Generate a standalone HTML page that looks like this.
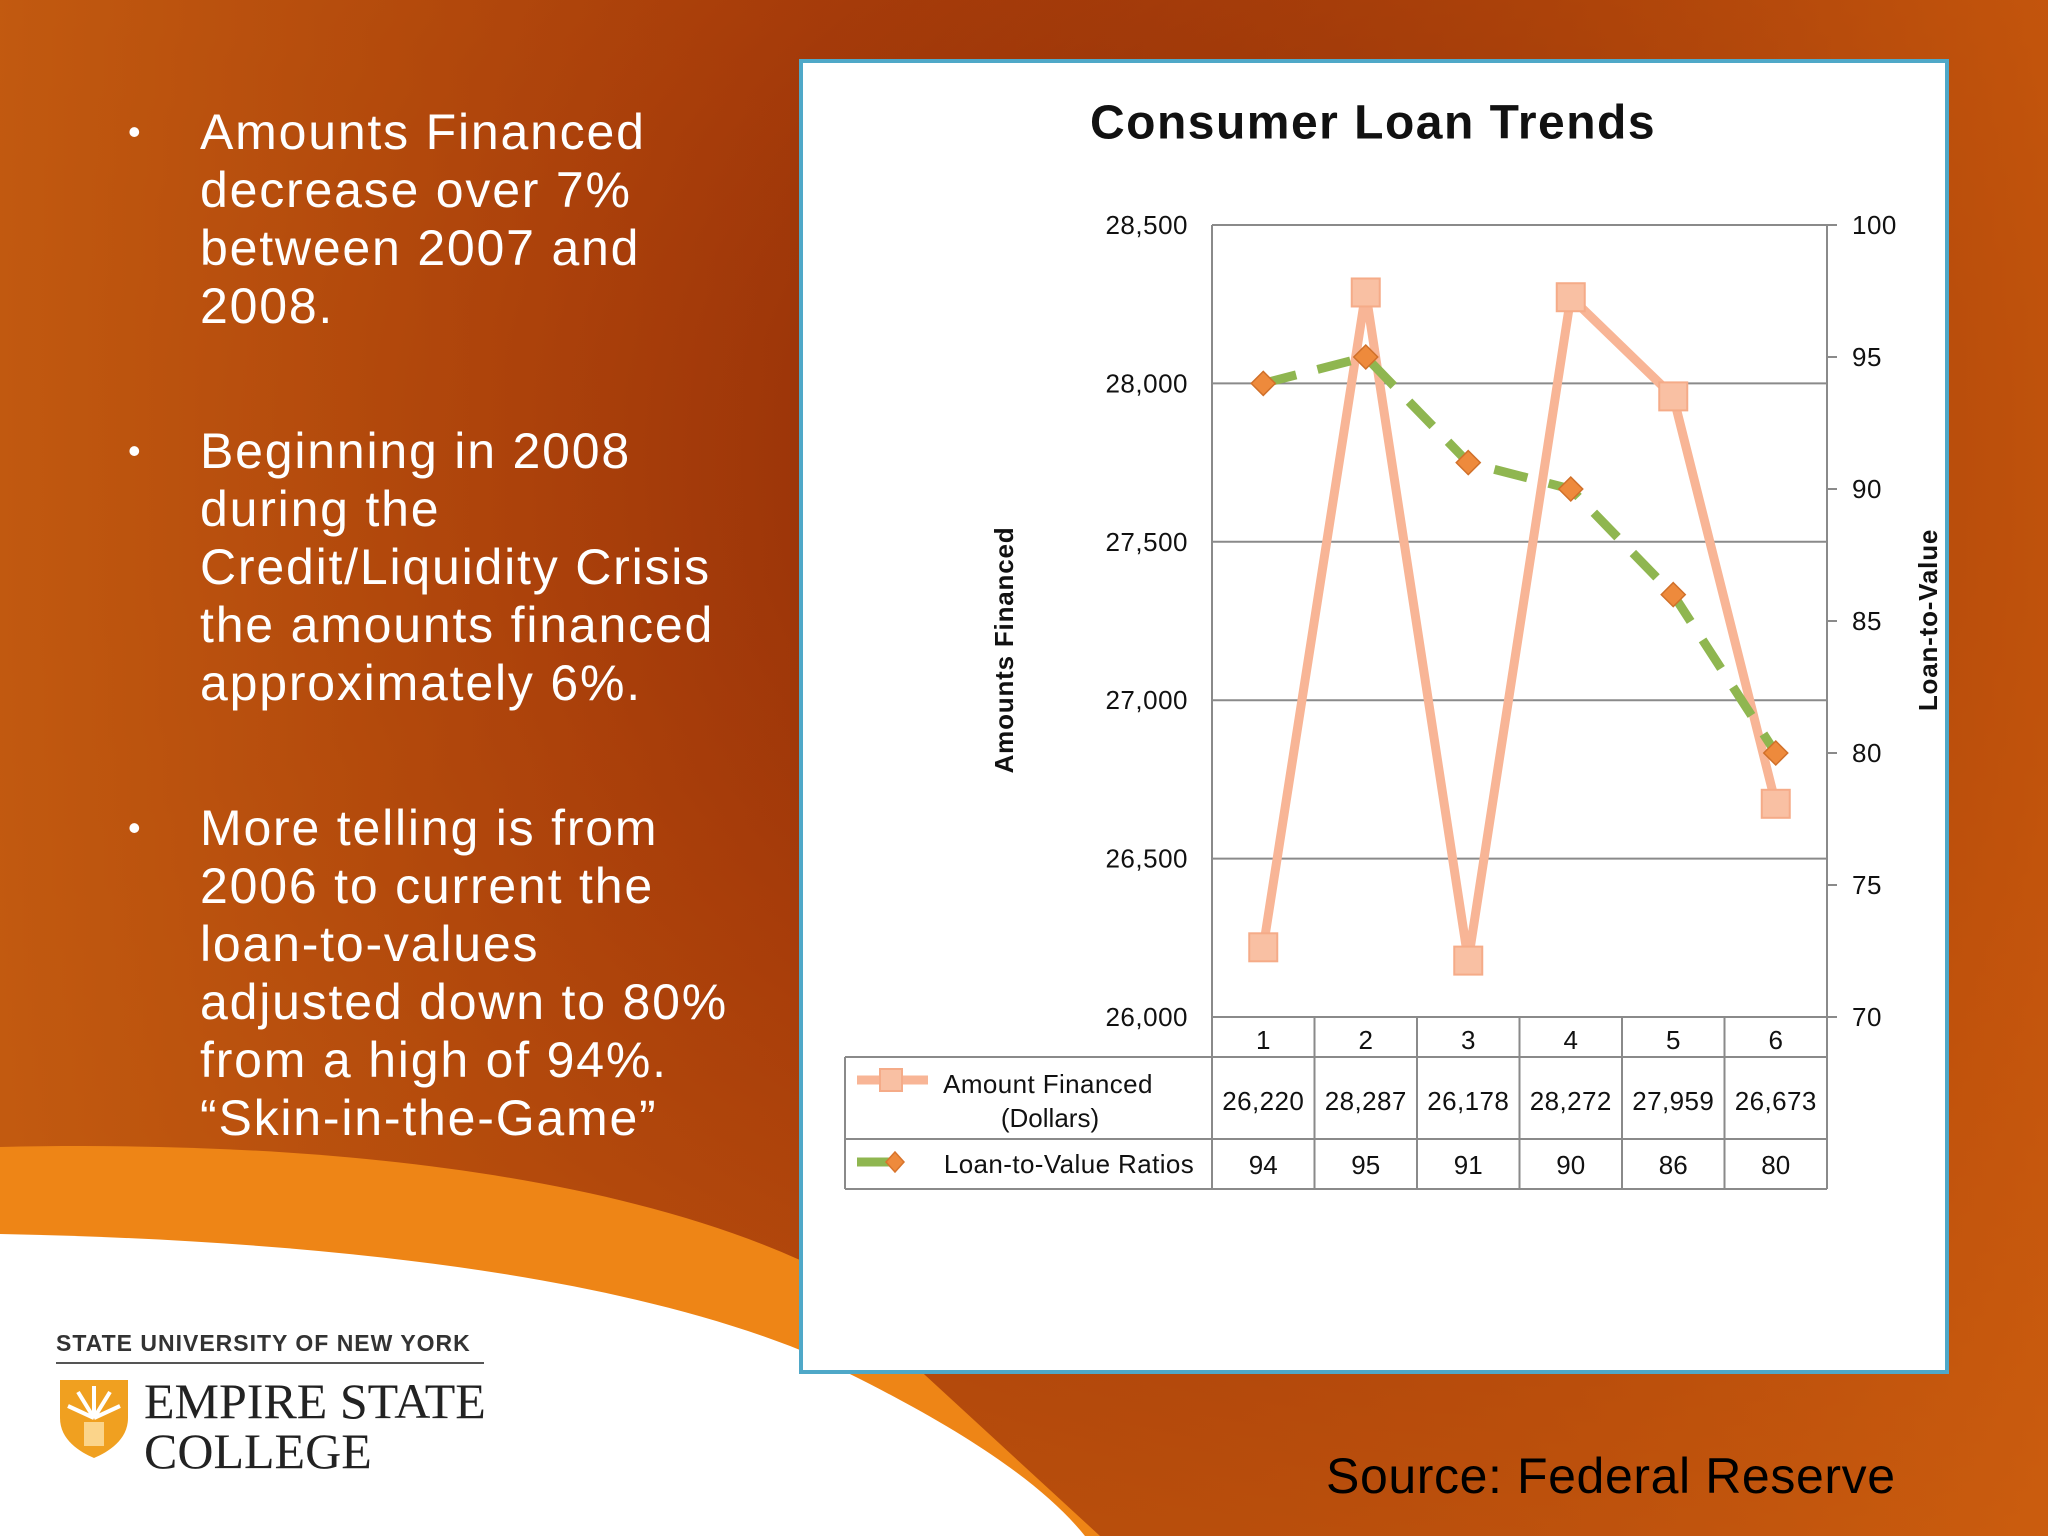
<!DOCTYPE html>
<html><head><meta charset="utf-8"><style>
html,body{margin:0;padding:0}
body{width:2048px;height:1536px;overflow:hidden;position:relative;font-family:"Liberation Sans",sans-serif;background:#b54a0c}
.bul{position:absolute;color:#fff;font-size:50px;line-height:58px;letter-spacing:1.8px;white-space:nowrap}
.bul .dot{position:absolute;left:-72px;top:0;font-size:36px}
</style></head><body>
<svg width="2048" height="1536" style="position:absolute;left:0;top:0">
<defs>
<radialGradient id="bg" cx="0.7" cy="0.3" r="0.9"><stop offset="0" stop-color="#7a1e05"/><stop offset="0.5" stop-color="#a83c0a"/><stop offset="1" stop-color="#c9600f"/></radialGradient>
<linearGradient id="bg2" x1="0" y1="0" x2="1" y2="0"><stop offset="0" stop-color="#c25a10" stop-opacity="0.9"/><stop offset="0.4" stop-color="#a8400a" stop-opacity="0.2"/><stop offset="1" stop-color="#d0600e" stop-opacity="0.7"/></linearGradient>
</defs>
<rect width="2048" height="1536" fill="url(#bg)"/>
<rect width="2048" height="1536" fill="url(#bg2)"/>
<path d="M0 1147 C300 1140 600 1170 800 1260 L1100 1536 L0 1536 Z" fill="#ee8516"/>
<path d="M0 1234 C300 1240 600 1270 800 1350 C950 1420 1040 1480 1085 1536 L0 1536 Z" fill="#fff"/>
</svg>

<div class="bul" style="left:200px;top:103px"><span class="dot">•</span>Amounts Financed<br>decrease over 7%<br>between 2007 and<br>2008.</div>
<div class="bul" style="left:200px;top:422px"><span class="dot">•</span>Beginning in 2008<br>during the<br>Credit/Liquidity Crisis<br>the amounts financed<br>approximately 6%.</div>
<div class="bul" style="left:200px;top:799px"><span class="dot">•</span>More telling is from<br>2006 to current the<br>loan-to-values<br>adjusted down to 80%<br>from a high of 94%.<br>“Skin-in-the-Game”</div>

<div style="position:absolute;left:56px;top:1330px;width:430px">
<div style="font-size:23px;font-weight:bold;color:#333;letter-spacing:1px;border-bottom:2px solid #555;padding-bottom:5px;white-space:nowrap;width:428px">STATE UNIVERSITY OF NEW YORK</div>
<svg width="72" height="82" style="position:absolute;left:2px;top:48px"><path d="M2 2 H70 V40 C70 62 50 74 36 80 C22 74 2 62 2 40 Z" fill="#f0a020"/><path d="M36 40 L20 14 M36 40 L36 8 M36 40 L52 14 M36 40 L10 28 M36 40 L62 28" stroke="#fff" stroke-width="4"/><rect x="26" y="44" width="20" height="24" fill="#fbd48a"/></svg>
<div style="position:absolute;left:88px;top:46px;font-family:'Liberation Serif',serif;font-size:50px;color:#222;line-height:50px;white-space:nowrap">EMPIRE STATE<br>COLLEGE</div>
</div>

<div style="position:absolute;left:1326px;top:1447px;font-size:50px;color:#000;white-space:nowrap;letter-spacing:0.6px">Source: Federal Reserve</div>

<div style="position:absolute;left:799px;top:59px;width:1142px;height:1307px;background:#fff;border:4px solid #4fa8c8"></div>

<svg id="chart" width="2048" height="1536" style="position:absolute;left:0;top:0" font-family="Liberation Sans, sans-serif"></svg>

<script>
const categories = ["1","2","3","4","5","6"];
const amountFinanced = [26220, 28287, 26178, 28272, 27959, 26673];
const loanToValue = [94, 95, 91, 90, 86, 80];
const amountLabels = ["26,220","28,287","26,178","28,272","27,959","26,673"];
const leftTicks = [26000, 26500, 27000, 27500, 28000, 28500];
const leftTickLabels = ["26,000","26,500","27,000","27,500","28,000","28,500"];
const rightTicks = [70, 75, 80, 85, 90, 95, 100];

const svg = document.getElementById('chart');
const NS = 'http://www.w3.org/2000/svg';
const PL = 1212, PR = 1827, PT = 225, PB = 1017;
const colW = (PR - PL) / categories.length;
function xPos(i){ return PL + (i + 0.5) * colW; }
function yLeft(v){ return PB - (v - 26000) / (28500 - 26000) * (PB - PT); }
function yRight(v){ return PB - (v - 70) / (100 - 70) * (PB - PT); }
function mk(tag, attrs, parent){ const e = document.createElementNS(NS, tag); for (const k in attrs) e.setAttribute(k, attrs[k]); (parent||svg).appendChild(e); return e; }
function txt(s, x, y, size, anchor, extra){ const t = mk('text', Object.assign({x:x, y:y, 'font-size':size, 'text-anchor':anchor||'middle', 'dominant-baseline':'central', fill:'#111'}, extra||{})); t.textContent = s; return t; }

let t = txt('Consumer Loan Trends', 1373, 123, 48, 'middle', {'font-weight':'bold', 'letter-spacing':'1.5'});



leftTicks.forEach((v, i) => {
  const y = yLeft(v);
  const g = mk('line', {x1:PL, x2:PR, y1:y, y2:y, stroke:'#8a8a8a', 'stroke-width':2});
  
  
  const l = txt(leftTickLabels[i], 1188, y, 26, 'end', {'letter-spacing':'0.5'});
  
  
});
rightTicks.forEach(v => {
  const y = yRight(v);
  const tk = mk('line', {x1:PR, x2:PR+10, y1:y, y2:y, stroke:'#8a8a8a', 'stroke-width':2});
  
  
  const l = txt(String(v), 1852, y, 26, 'start', {'letter-spacing':'0.5'});
  
  
});
let ax = mk('line', {x1:PL, x2:PL, y1:PT, y2:PB, stroke:'#8a8a8a', 'stroke-width':2});


ax = mk('line', {x1:PR, x2:PR, y1:PT, y2:PB, stroke:'#8a8a8a', 'stroke-width':2});



t = txt('Amounts Financed', 1004, 650, 26, 'middle', {'font-weight':'bold', 'letter-spacing':'0.8', transform:'rotate(-90 1004 650)'});


t = txt('Loan-to-Value', 1928, 620, 26, 'middle', {'font-weight':'bold', 'letter-spacing':'0.8', transform:'rotate(-90 1928 620)'});



// data table
const TL = 845, R1 = 1057, R2 = 1139, R3 = 1189;
const tg = mk('g', {stroke:'#8a8a8a', 'stroke-width':2, fill:'none'});


mk('line', {x1:TL, x2:PR, y1:R1, y2:R1}, tg);
mk('line', {x1:TL, x2:PR, y1:R2, y2:R2}, tg);
mk('line', {x1:TL, x2:PR, y1:R3, y2:R3}, tg);
mk('line', {x1:TL, x2:TL, y1:R1, y2:R3}, tg);
for (let i = 0; i <= categories.length; i++) mk('line', {x1:PL+i*colW, x2:PL+i*colW, y1:PB, y2:R3}, tg);

categories.forEach((c, i) => {
  const a = txt(c, xPos(i), 1040, 26);
  
  
  const b = txt(amountLabels[i], xPos(i), 1101, 26, 'middle', {'letter-spacing':'0.4'});
  
  
  const d = txt(String(loanToValue[i]), xPos(i), 1165, 26);
  
  
});
t = txt('Amount Financed', 1048, 1084, 26, 'middle', {'letter-spacing':'0.4'});


t = txt('(Dollars)', 1050, 1118, 26);


t = txt('Loan-to-Value Ratios', 1069, 1164, 26, 'middle', {'letter-spacing':'0.4'});


let li = mk('line', {x1:857, x2:928, y1:1080, y2:1080, stroke:'#f8b596', 'stroke-width':9});


li = mk('rect', {x:880, y:1069, width:22, height:22, fill:'#f9c0a3', stroke:'#f5ab88', 'stroke-width':2});


li = mk('line', {x1:857, x2:892, y1:1162, y2:1162, stroke:'#8fb650', 'stroke-width':9});


li = mk('path', {d:'M895 1152 L904 1162 L895 1172 L886 1162 Z', fill:'#ee8a3c', stroke:'#d8742c', 'stroke-width':1.5});



// series
const ap = amountFinanced.map((v, i) => xPos(i) + ',' + yLeft(v)).join(' ');
const al = mk('polyline', {points:ap, fill:'none', stroke:'#f8b596', 'stroke-width':9, 'stroke-linejoin':'round'});


amountFinanced.forEach((v, i) => {
  const r = mk('rect', {x:xPos(i)-14, y:yLeft(v)-14, width:28, height:28, fill:'#f9c0a3', stroke:'#f5ab88', 'stroke-width':2});
  
  
});
const lp = loanToValue.map((v, i) => xPos(i) + ',' + yRight(v)).join(' ');
const ll = mk('polyline', {points:lp, fill:'none', stroke:'#8fb650', 'stroke-width':9, 'stroke-dasharray':'34 22'});


loanToValue.forEach((v, i) => {
  const x = xPos(i), y = yRight(v);
  const d = mk('path', {d:`M${x} ${y-12} L${x+12} ${y} L${x} ${y+12} L${x-12} ${y} Z`, fill:'#ee8a3c', stroke:'#d0702a', 'stroke-width':1.5});
  
  
});
</script>
</body></html>
